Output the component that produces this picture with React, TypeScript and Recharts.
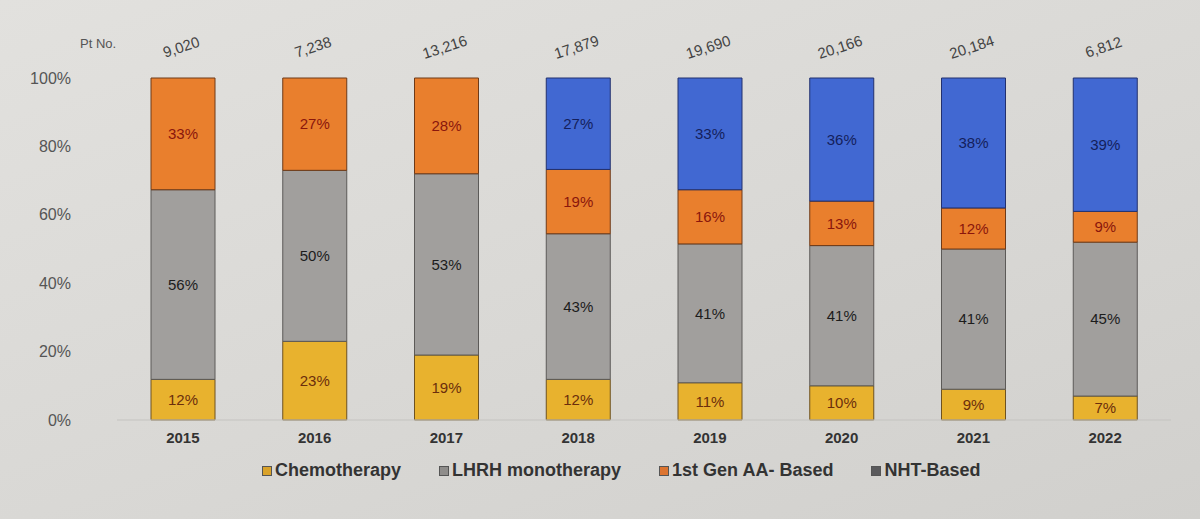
import React from "react"
import { BarChart, Bar, XAxis, YAxis, LabelList } from "recharts"

const years = ["2015", "2016", "2017", "2018", "2019", "2020", "2021", "2022"]
const ptNo = [9020, 7238, 13216, 17879, 19690, 20166, 20184, 6812]
const chemo = [12, 23, 19, 12, 11, 10, 9, 7]
const lhrh = [56, 50, 53, 43, 41, 41, 41, 45]
const firstGen = [33, 27, 28, 19, 16, 13, 12, 9]
const nht = [0, 0, 0, 27, 33, 36, 38, 39]

const data = years.map((year, i) => ({
  year,
  pt: ptNo[i],
  chemo: chemo[i],
  lhrh: lhrh[i],
  firstGen: firstGen[i],
  nht: nht[i],
}))

const FONT = "'Liberation Sans', Arial, sans-serif"

const series = [
  { key: "chemo", name: "Chemotherapy", fill: "#e8b22e", stroke: "#6e5220", label: "#6b2e0c", legend: "#d9a22a" },
  { key: "lhrh", name: "LHRH monotherapy", fill: "#a19f9d", stroke: "#5c5a58", label: "#1c1c1c", legend: "#8f8d8b" },
  { key: "firstGen", name: "1st Gen AA- Based", fill: "#e97f2d", stroke: "#6e3a18", label: "#8a160c", legend: "#dc7430" },
  { key: "nht", name: "NHT-Based", fill: "#4168d2", stroke: "#22306e", label: "#141f5c", legend: "#5a5a5c" },
]

const pct = (v: any) => (v ? `${v}%` : "")

// patient counts sit above each bar, tilted
const PtTick = ({ x, y, payload }: any) => (
  <text
    x={x}
    y={y}
    textAnchor="middle"
    fill="#444"
    fontSize={15}
    fontFamily={FONT}
    transform={`rotate(-18, ${x}, ${y})`}
  >
    {Number(payload.value).toLocaleString("en-US")}
  </text>
)

export default function App() {
  return (
    <div
      style={{
        position: "absolute",
        top: 0,
        left: 0,
        width: 1200,
        height: 519,
        background: "linear-gradient(160deg, #e2e1de 0%, #d9d8d5 55%, #d1d0cd 100%)",
        fontFamily: FONT,
      }}
    >
      <div style={{ position: "absolute", left: 80, top: 36, fontSize: 13, color: "#555" }}>Pt No.</div>
      <BarChart
        width={1200}
        height={519}
        data={data}
        stackOffset="expand"
        barSize={64}
        margin={{ top: 48, right: 29, bottom: 69, left: 0 }}
      >
        <XAxis
          dataKey="year"
          tickLine={false}
          axisLine={{ stroke: "#c4c3c0" }}
          tickMargin={6}
          tick={{ fill: "#333", fontSize: 15, fontWeight: 700, fontFamily: FONT }}
        />
        <XAxis
          xAxisId="pt"
          dataKey="pt"
          orientation="top"
          height={30}
          axisLine={false}
          tickLine={false}
          tickMargin={20}
          tick={<PtTick />}
        />
        <YAxis
          width={117}
          domain={[0, 1]}
          ticks={[0, 0.2, 0.4, 0.6, 0.8, 1]}
          tickFormatter={(v: number) => `${Math.round(v * 100)}%`}
          axisLine={false}
          tickLine={false}
          tickMargin={40}
          tick={{ fill: "#555", fontSize: 16, fontFamily: FONT }}
        />
        {series.map((s) => (
          <Bar
            key={s.key}
            dataKey={s.key}
            name={s.name}
            stackId="a"
            fill={s.fill}
            stroke={s.stroke}
            strokeWidth={1}
            isAnimationActive={false}
          >
            <LabelList
              dataKey={s.key}
              position="center"
              formatter={pct}
              fill={s.label}
              fontSize={15}
              fontFamily={FONT}
            />
          </Bar>
        ))}
      </BarChart>
      <div
        style={{
          position: "absolute",
          top: 460,
          left: 262,
          display: "flex",
          gap: 38,
          fontSize: 18,
          fontWeight: 700,
          color: "#333",
          whiteSpace: "nowrap",
        }}
      >
        {series.map((s) => (
          <div key={s.key} style={{ display: "flex", alignItems: "center" }}>
            <span
              style={{
                display: "inline-block",
                width: 8,
                height: 8,
                background: s.legend,
                border: "1px solid #555",
                marginRight: 3,
              }}
            />
            {s.name}
          </div>
        ))}
      </div>
    </div>
  )
}
